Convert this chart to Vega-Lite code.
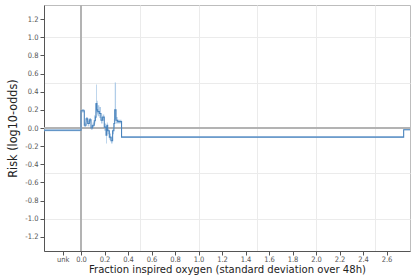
{
  "$schema": "https://vega.github.io/schema/vega-lite/v6.json",
  "width": 366,
  "height": 246,
  "autosize": {"type": "none"},
  "padding": {"left": 44, "top": 5, "right": 2, "bottom": 26},
  "background": "white",
  "config": {
    "view": {"stroke": "#bdbdbd", "strokeWidth": 1},
    "font": "DejaVu Sans Condensed",
    "axis": {
      "labelFont": "DejaVu Sans Condensed",
      "titleFont": "DejaVu Sans Condensed",
      "labelColor": "#555555",
      "titleColor": "#222222",
      "domainColor": "#555555",
      "tickColor": "#555555",
      "gridColor": "#ebebeb",
      "labelFontSize": 7.5,
      "titleFontSize": 12.5,
      "titleFontWeight": "normal",
      "tickSize": 4
    }
  },
  "data": {
    "values": [
      {"x": -0.315, "y": -0.025, "lo": -0.035, "hi": -0.015},
      {"x": 0.0, "y": 0.19, "lo": 0.17, "hi": 0.21},
      {"x": 0.028, "y": 0.03, "lo": 0.0, "hi": 0.06},
      {"x": 0.043, "y": 0.1, "lo": 0.07, "hi": 0.12},
      {"x": 0.057, "y": 0.05, "lo": 0.02, "hi": 0.08},
      {"x": 0.071, "y": 0.09, "lo": 0.06, "hi": 0.11},
      {"x": 0.085, "y": 0.0, "lo": -0.02, "hi": 0.03},
      {"x": 0.099, "y": 0.03, "lo": 0.01, "hi": 0.06},
      {"x": 0.113, "y": 0.08, "lo": 0.05, "hi": 0.14},
      {"x": 0.122, "y": 0.12, "lo": 0.09, "hi": 0.27},
      {"x": 0.128, "y": 0.27, "lo": 0.17, "hi": 0.48},
      {"x": 0.135, "y": 0.2, "lo": 0.15, "hi": 0.3},
      {"x": 0.142, "y": 0.18, "lo": 0.13, "hi": 0.25},
      {"x": 0.156, "y": 0.16, "lo": 0.11, "hi": 0.23},
      {"x": 0.17, "y": 0.085, "lo": 0.05, "hi": 0.12},
      {"x": 0.184, "y": 0.12, "lo": 0.08, "hi": 0.15},
      {"x": 0.198, "y": 0.01, "lo": -0.03, "hi": 0.05},
      {"x": 0.213, "y": -0.08, "lo": -0.17, "hi": -0.02},
      {"x": 0.22, "y": 0.03, "lo": -0.01, "hi": 0.06},
      {"x": 0.227, "y": -0.03, "lo": -0.07, "hi": 0.01},
      {"x": 0.241, "y": -0.1, "lo": -0.13, "hi": -0.06},
      {"x": 0.255, "y": -0.14, "lo": -0.17, "hi": -0.1},
      {"x": 0.269, "y": -0.03, "lo": -0.07, "hi": 0.01},
      {"x": 0.28, "y": 0.05, "lo": 0.01, "hi": 0.1},
      {"x": 0.287, "y": 0.2, "lo": 0.1, "hi": 0.5},
      {"x": 0.298, "y": 0.085, "lo": 0.05, "hi": 0.12},
      {"x": 0.312, "y": 0.07, "lo": 0.05, "hi": 0.09},
      {"x": 0.345, "y": -0.1, "lo": -0.106, "hi": -0.092},
      {"x": 2.746, "y": -0.02, "lo": -0.026, "hi": -0.013},
      {"x": 2.8, "y": -0.02, "lo": -0.026, "hi": -0.013}
    ]
  },
  "resolve": {"axis": {"x": "independent", "y": "independent"}},
  "layer": [
    {
      "mark": {"type": "area", "interpolate": "step-after", "color": "#a8c8e6", "opacity": 0.9},
      "encoding": {
        "x": {"field": "x", "type": "quantitative",
              "scale": {"domain": [-0.315, 2.8], "nice": false, "zero": false},
              "axis": {"orient": "bottom", "grid": true, "values": [0.5, 1.0, 1.5, 2.0, 2.5], "labels": false, "ticks": false, "domain": false, "title": null}},
        "y": {"field": "lo", "type": "quantitative",
              "scale": {"domain": [-1.355, 1.355], "nice": false, "zero": false},
              "axis": {"orient": "left", "grid": true, "values": [-1.0, -0.5, 0.5, 1.0], "labels": false, "ticks": false, "domain": false, "title": null}},
        "y2": {"field": "hi"}
      }
    },
    {
      "mark": {"type": "rule", "color": "#b3b3b3", "strokeWidth": 2},
      "encoding": {"x": {"datum": 0, "type": "quantitative", "axis": null}}
    },
    {
      "mark": {"type": "rule", "color": "#b3b3b3", "strokeWidth": 2},
      "encoding": {"y": {"datum": 0, "type": "quantitative", "axis": null}}
    },
    {
      "mark": {"type": "line", "interpolate": "step-after", "color": "#4a84bd", "strokeWidth": 1.1},
      "encoding": {
        "x": {"field": "x", "type": "quantitative",
              "axis": {"orient": "bottom", "grid": false,
                       "values": [-0.155, 0, 0.2, 0.4, 0.6, 0.8, 1.0, 1.2, 1.4, 1.6, 1.8, 2.0, 2.2, 2.4, 2.6],
                       "labelExpr": "datum.value < -0.1 ? 'unk' : format(datum.value, '.1f')",
                       "labelPadding": 0, "titlePadding": 1, "titleFontSize": 11.2,
                       "title": "Fraction inspired oxygen (standard deviation over 48h)"}},
        "y": {"field": "y", "type": "quantitative",
              "axis": {"orient": "left", "grid": false,
                       "values": [-1.2, -1.0, -0.8, -0.6, -0.4, -0.2, 0, 0.2, 0.4, 0.6, 0.8, 1.0, 1.2],
                       "labelExpr": "replace(format(datum.value, '.1f'), '\u2212', '-')",
                       "labelPadding": 2, "titlePadding": 5,
                       "title": "Risk (log10-odds)"}}
      }
    }
  ]
}
